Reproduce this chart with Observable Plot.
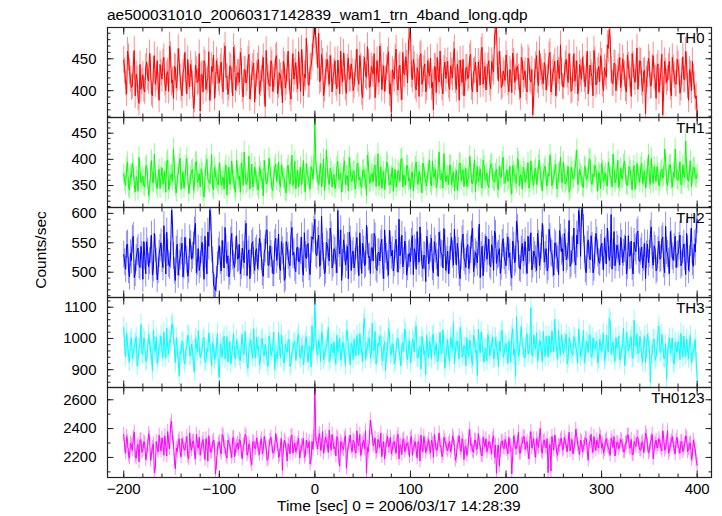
<!DOCTYPE html>
<html><head><meta charset="utf-8">
<script src="https://cdn.jsdelivr.net/npm/d3@7"></script>
<script src="https://cdn.jsdelivr.net/npm/@observablehq/plot@0.6"></script>
<style>
body{margin:0;background:#fff;}
#chart{position:relative;width:722px;height:516px;background:#fff;overflow:hidden;font-family:"Liberation Sans",Arial,sans-serif;}
</style></head><body><div id="chart"></div>
<script>
const titleText = "ae500031010_20060317142839_wam1_trn_4band_long.qdp";
const xLabelText = "Time [sec] 0 = 2006/03/17 14:28:39";
const yLabelText = "Counts/sec";
const panelNames = ["TH0", "TH1", "TH2", "TH3", "TH0123"];
const colors = ["#ff0000", "#00ff00", "#0000ff", "#00ffff", "#ff00ff"];
// bin times: even seconds (-200..400) and odd seconds (-199..399)
const timesEven = d3.range(-200, 401, 2);
const timesOdd = d3.range(-199, 400, 2);
const xMajor = [-200, -100, 0, 100, 200, 300, 400];
const xMinor = d3.range(-200, 401, 20);
const yDomains = [[358, 499], [308, 480], [457, 610], [843, 1131], [2061, 2685]];
const yMajor = [[400, 450], [350, 400, 450], [500, 550, 600], [900, 1000, 1100], [2200, 2400, 2600]];
const yMinorStep = [10, 10, 10, 20, 100];

const th0 = [448,412,462,430,405,440,392,418,380,402,
425,398,445,415,437,392,455,420,408,441,
418,452,400,430,470,412,388,436,419,445,
403,428,460,395,422,441,410,385,432,415,
368,426,447,402,419,385,438,456,408,430,
412,445,398,470,423,405,436,392,450,418,
428,460,401,433,412,448,387,425,443,406,
438,395,419,452,375,430,410,447,399,426,
455,408,423,381,440,414,462,397,429,418,
444,403,431,465,392,420,451,409,438,476,
505,462,490,418,445,402,438,426,455,398,
430,412,448,395,427,459,405,436,418,442,
400,428,465,410,437,389,452,421,444,407,
433,458,415,426,470,402,439,418,447,395,
366,428,451,412,436,404,460,425,442,478,
498,417,440,401,429,455,410,434,398,447,
423,405,370,437,452,414,428,395,445,431,
408,439,420,466,402,427,448,413,392,436,
419,452,405,430,445,398,427,462,410,438,
421,447,403,435,486,500,415,440,408,426,
456,412,433,397,445,420,438,405,452,417,
431,398,446,414,362,429,455,408,437,422,
444,401,427,460,413,435,392,448,419,430,
406,441,425,458,399,432,415,447,403,428,
452,418,436,395,440,422,463,409,431,414,
445,400,428,472,496,433,411,442,419,437,
405,450,426,398,439,416,458,421,434,402,
447,412,430,364,425,441,408,455,419,436,
398,428,362,446,413,437,405,452,424,410,
441,396,430,418,462,407,433,400,421,388,360];
const th0Odd = [431,395,452,418,407,463,426,389,441,414,
402,437,421,458,396,433,410,447,385,428,
444,412,426,399,455,417,438,404,466,421,
392,435,418,449,406,427,372,440,413,458,
424,398,442,415,461,403,430,388,447,419,
436,407,453,421,394,439,416,468,401,428,
413,445,390,432,419,457,404,437,382,426,
449,411,434,398,463,420,407,441,416,452,
395,428,412,446,404,435,421,387,458,430,
417,461,399,443,426,482,409,437,452,488,
479,436,414,457,392,428,449,410,435,421,
447,403,426,462,414,437,396,451,419,430,
408,442,418,455,397,433,424,469,405,438,
426,389,447,413,452,420,399,436,461,411,
433,418,465,401,440,386,427,453,412,484,
425,449,407,436,391,458,418,442,404,429,
451,413,438,397,426,462,405,434,419,446,
402,430,455,416,441,385,427,449,411,436,
423,457,398,432,417,445,409,468,424,401,
438,412,446,429,493,438,462,405,431,416,
442,398,427,459,413,436,421,389,447,425,
404,451,418,433,392,440,416,463,429,411,
437,420,455,398,428,446,410,431,472,407,
424,449,413,437,401,458,426,395,441,418,
433,406,462,419,428,392,447,414,438,455,
410,436,421,466,481,412,443,400,429,452,
418,437,403,456,425,391,440,413,467,426,
445,399,432,418,451,407,436,423,388,442,
415,457,402,430,419,446,392,435,411,449,
428,404,453,417,439,385,426,446,409,392];

const th1 = [372,350,395,342,366,381,338,360,404,355,
368,347,389,331,375,358,410,352,370,344,
384,361,337,399,356,372,420,348,365,390,
343,376,359,402,335,368,381,352,396,360,
347,374,328,388,362,354,409,341,370,357,
393,350,366,378,332,385,359,371,345,398,
362,337,380,414,352,368,343,391,358,374,
349,386,361,330,377,355,402,366,340,383,
358,395,347,372,363,336,389,352,408,360,
344,379,366,351,398,338,371,355,386,362,
480,375,351,392,366,340,418,359,383,347,
371,355,396,363,337,384,352,369,404,358,
376,343,389,361,350,379,366,331,394,357,
372,384,348,411,360,345,377,362,392,351,
368,339,381,356,373,400,347,365,388,359,
343,376,362,395,352,370,336,384,358,373,
398,349,366,381,355,414,361,345,377,368,
352,389,364,340,379,357,393,371,348,383,
362,406,355,373,338,386,367,351,399,360,
374,346,390,363,357,381,342,369,395,354,
371,358,387,334,376,363,402,349,368,385,
356,372,345,397,361,378,352,389,366,340,
382,359,374,408,350,367,391,344,376,362,
395,353,369,337,385,364,378,418,357,372,
348,387,361,375,399,352,366,383,339,370,
392,358,374,349,381,365,410,355,372,346,
384,363,397,351,369,378,342,388,360,375,
356,393,368,345,381,362,402,354,371,386,
349,377,364,420,358,373,390,347,366,382,
360,395,352,371,435,363,379,348,384,366,372];
const th1Odd = [358,383,346,371,392,352,367,339,378,361,
349,386,363,340,398,355,372,344,381,366,
353,377,395,342,369,358,384,336,373,402,
360,345,388,367,351,379,341,394,356,372,
382,338,364,400,357,370,346,385,362,351,
375,359,343,389,366,352,397,361,337,380,
368,393,350,374,356,406,363,347,385,359,
341,376,362,398,353,370,384,345,367,391,
373,355,389,364,339,381,358,376,350,396,
362,347,385,371,354,392,366,343,378,388,
391,359,372,348,401,363,384,352,377,365,
344,386,361,374,356,397,368,340,383,359,
378,352,393,366,345,380,362,408,354,371,
357,389,373,349,386,361,342,395,367,353,
384,363,347,379,358,402,370,351,388,364,
372,340,386,360,377,355,393,366,349,381,
355,397,368,346,383,362,374,411,357,369,
389,352,376,364,341,392,359,380,367,348,
366,385,353,399,370,357,382,345,388,363,
351,378,392,359,373,348,386,365,404,356,
380,362,347,388,369,354,395,371,343,377,
363,394,355,376,350,383,366,399,358,372,
387,349,368,392,361,379,345,373,404,355,
371,358,386,342,377,363,396,352,381,367,
346,384,365,401,356,372,389,360,375,344,
379,366,353,395,369,347,383,362,398,357,
364,390,372,351,386,359,377,343,392,368,
385,354,378,363,409,352,371,386,358,374,
357,381,369,396,350,388,362,375,420,361,
376,352,389,365,383,358,397,370,384,363];

const th2 = [530,505,548,492,520,561,498,535,512,544,
488,527,552,509,538,495,566,518,503,541,
522,579,497,533,510,605,528,486,548,515,
536,492,559,521,504,547,528,570,499,540,
513,551,488,530,568,606,540,478,469,512,
545,502,530,576,515,492,553,527,508,562,
524,497,541,516,583,530,489,548,519,535,
506,558,526,493,540,572,512,531,498,549,
520,565,503,537,486,552,528,511,576,534,
501,543,518,560,495,529,547,508,538,556,
590,528,563,514,542,497,551,533,575,507,
540,520,605,531,486,555,512,544,568,503,
536,518,559,494,527,549,511,580,525,498,
542,566,507,533,519,556,489,538,514,571,
528,502,547,522,590,536,509,553,495,530,
518,562,540,505,535,577,513,529,484,548,
526,558,499,539,516,568,532,507,550,521,
497,543,530,573,512,536,489,555,524,508,
547,520,563,501,534,516,582,529,494,541,
522,556,509,538,570,515,531,498,549,527,
511,560,533,490,545,521,574,507,538,519,
552,498,536,567,513,529,503,548,526,583,
517,540,508,559,531,495,546,522,571,535,
502,550,526,588,514,539,519,563,605,527,
612,538,499,555,521,544,507,566,532,515,
549,504,537,575,520,598,533,511,546,524,
559,516,540,497,562,528,509,551,535,570,
518,543,525,489,548,531,577,512,539,506,
553,524,560,499,536,518,569,527,542,508,
531,563,515,548,496,539,522,575,510,534,590];
const th2Odd = [517,546,503,532,556,491,524,541,508,529,
552,497,535,519,563,506,540,487,531,550,
508,541,568,514,529,582,502,538,495,526,
549,511,536,493,557,522,545,583,517,503,
538,524,561,497,544,595,520,474,488,535,
519,554,507,541,528,500,566,514,537,522,
547,510,529,563,494,538,516,552,503,540,
525,548,499,533,571,512,545,520,497,558,
533,509,552,526,490,544,515,562,529,507,
541,518,536,505,567,523,549,496,560,572,
531,553,510,595,527,502,546,519,562,514,
536,499,548,572,516,541,524,489,555,530,
507,545,521,567,498,538,514,553,527,541,
519,560,503,534,548,511,572,526,495,547,
537,515,556,500,528,563,519,545,508,532,
551,496,533,569,517,542,506,528,561,514,
540,508,552,527,493,546,531,574,503,536,
521,559,512,537,549,498,527,565,518,542,
506,538,575,514,529,552,491,544,523,561,
535,513,547,503,564,528,540,509,557,519,
542,525,498,553,516,587,530,505,549,533,
518,561,540,504,536,522,566,511,545,556,
529,502,573,534,514,550,527,496,558,540,
566,521,544,510,537,575,512,548,592,601,
574,505,546,528,562,499,537,553,518,541,
526,558,514,547,531,505,569,524,539,512,
548,533,561,510,527,553,497,541,566,521,
535,507,549,530,516,564,528,545,502,537,
522,555,513,578,531,498,547,520,561,529,
544,511,538,525,566,503,550,517,548,572];

const th3 = [1035,942,978,925,1002,958,986,912,969,1045,
948,990,931,1012,962,897,975,1004,940,983,
956,1021,937,968,995,1040,1010,922,964,880,
951,986,918,972,1008,944,961,893,979,1025,
939,967,1003,926,958,985,912,971,947,1015,
875,962,990,934,1006,955,919,978,943,996,
960,928,1012,949,973,904,985,957,1031,938,
967,915,994,952,981,926,1008,945,970,899,
953,1019,938,976,921,964,992,910,958,984,
930,1002,947,969,915,988,952,975,908,963,
1135,958,994,927,1012,946,973,1036,934,968,
989,920,957,1001,942,976,913,1023,950,985,
932,968,1010,947,979,925,1064,958,991,936,
1049,962,919,985,1007,941,972,897,966,1018,
953,981,928,996,960,912,987,1030,945,973,
921,998,956,1040,938,975,1006,949,884,968,
990,935,1014,962,927,983,951,1028,904,972,
944,1003,966,918,987,958,1035,940,977,912,
961,995,932,1010,955,881,979,1021,947,970,
928,992,963,1004,939,975,910,958,1026,951,
984,920,966,1009,946,878,993,957,1038,971,
937,1015,958,1098,943,980,1018,951,989,925,
968,1007,940,976,1024,957,994,933,972,1011,
952,987,919,1003,964,946,998,958,1030,941,
975,922,991,955,1012,940,968,985,921,997,
959,1016,942,978,1064,950,989,927,970,1008,
946,983,912,1021,961,995,937,1058,974,952,
1006,940,981,923,1013,966,948,997,930,972,
1040,955,985,936,868,978,952,1002,918,969,
990,932,975,1008,943,961,986,921,958,996,870];
const th3Odd = [975,1018,947,990,936,968,1005,929,983,951,
1001,927,965,989,946,1026,958,920,977,1008,
938,972,1033,951,988,1047,967,1003,935,959,
992,930,964,1011,945,982,919,1000,957,973,
947,995,923,968,1018,951,986,932,974,903,
983,940,1007,961,925,990,948,1015,934,966,
942,985,953,1023,918,970,996,937,961,1004,
975,930,1001,944,968,911,987,958,1020,949,
934,973,1012,926,981,955,997,919,965,990,
958,1015,936,979,947,1006,924,968,1041,985,
1002,947,978,1019,932,964,991,925,983,954,
939,1010,962,930,988,951,1027,968,915,976,
997,944,980,1016,957,1045,934,972,1002,949,
962,1023,940,975,1009,927,990,954,1032,946,
983,918,967,1001,943,979,958,1017,931,994,
950,986,1021,937,968,902,991,960,1011,939,
973,1007,946,984,928,1019,955,978,941,996,
928,985,1052,957,992,935,1010,949,972,1003,
942,979,916,998,963,1029,954,987,925,968,
1012,945,981,934,1003,958,990,1018,940,977,
957,992,925,1031,966,1070,943,1005,972,938,
1001,950,982,947,1011,968,929,994,960,1022,
943,979,1008,955,989,1062,964,1027,947,983,
969,1014,936,990,952,1006,973,921,998,960,
1025,948,983,1009,941,1002,966,992,935,978,
988,929,1011,957,1052,974,947,1003,968,931,
962,1033,945,988,970,1006,938,979,1015,953,
991,924,1007,966,985,860,948,997,940,1020,
958,1012,937,983,951,1001,969,924,988,956,
979,1016,940,967,998,935,1009,952,971,925];

const th0123 = [2360,2230,2310,2195,2285,2340,2210,2275,2170,2325,
2250,2300,2220,2365,2180,2270,2095,2310,2240,2290,
2335,2215,2280,2380,2260,2450,2300,2120,2240,2330,
2205,2290,2250,2345,2190,2275,2310,2230,2360,2265,
2215,2300,2245,2330,2175,2285,2240,2320,2085,2260,
2310,2225,2350,2270,2195,2300,2240,2335,2205,2280,
2255,2315,2190,2290,2345,2235,2270,2150,2305,2260,
2290,2220,2330,2255,2300,2180,2275,2340,2230,2265,
2310,2200,2285,2110,2320,2250,2295,2225,2355,2270,
2240,2300,2195,2280,2330,2215,2265,2310,2185,2255,
2700,2295,2340,2250,2380,2270,2315,2235,2300,2360,
2260,2210,2330,2140,2290,2255,2350,2225,2305,2270,
2320,2245,2385,2280,2215,2300,2260,2090,2240,2460,
2350,2295,2230,2325,2270,2205,2310,2255,2345,2280,
2225,2300,2265,2335,2190,2285,2320,2240,2295,2260,
2330,2215,2285,2250,2310,2175,2275,2345,2235,2290,
2265,2320,2200,2300,2250,2370,2280,2225,2315,2260,
2295,2240,2350,2270,2205,2305,2260,2330,2185,2280,
2250,2395,2290,2235,2320,2265,2300,2215,2340,2275,
2240,2310,2260,2330,2200,2090,2285,2245,2315,2260,
2300,2225,2280,2085,2350,2260,2305,2230,2290,2340,
2255,2310,2190,2380,2295,2245,2330,2270,2400,2230,
2320,2265,2095,2290,2345,2250,2305,2215,2280,2335,
2260,2310,2240,2375,2285,2225,2300,2350,2265,2320,
2240,2295,2330,2180,2310,2270,2345,2250,2290,2360,
2265,2230,2315,2285,2250,2335,2270,2210,2305,2260,
2325,2280,2240,2300,2355,2265,2220,2310,2275,2340,
2255,2300,2235,2370,2285,2245,2320,2190,2295,2265,
2330,2270,2385,2250,2305,2230,2290,2345,2260,2315,
2275,2230,2310,2260,2350,2240,2295,2185,2320,2255,2150];
const th0123Odd = [2270,2345,2215,2300,2250,2375,2195,2290,2320,2235,
2310,2185,2280,2335,2220,2295,2130,2260,2355,2245,
2290,2350,2210,2305,2420,2335,2180,2265,2310,2240,
2330,2260,2295,2205,2370,2250,2315,2190,2285,2340,
2260,2325,2185,2290,2350,2235,2305,2270,2160,2295,
2245,2360,2270,2215,2320,2285,2200,2340,2255,2300,
2325,2240,2280,2360,2215,2295,2175,2310,2265,2335,
2255,2300,2225,2345,2270,2190,2320,2285,2240,2365,
2290,2215,2330,2260,2305,2175,2280,2345,2230,2300,
2265,2335,2240,2290,2200,2320,2275,2155,2310,2345,
2320,2260,2365,2285,2230,2340,2295,2390,2250,2305,
2275,2345,2200,2310,2265,2330,2125,2290,2355,2240,
2310,2230,2295,2360,2250,2320,2385,2270,2335,2400,
2280,2335,2245,2305,2370,2260,2190,2315,2275,2340,
2255,2310,2230,2360,2285,2220,2330,2265,2300,2205,
2345,2270,2310,2195,2290,2355,2240,2300,2265,2325,
2230,2295,2360,2250,2315,2275,2205,2340,2290,2245,
2310,2265,2330,2180,2295,2350,2240,2305,2270,2215,
2340,2285,2245,2320,2255,2365,2280,2210,2300,2330,
2265,2305,2225,2350,2285,2240,2140,2310,2270,2325,
2255,2340,2280,2215,2310,2265,2375,2230,2300,2345,
2290,2240,2325,2265,2330,2200,2295,2350,2245,2310,
2275,2330,2260,2105,2300,2355,2235,2285,2320,2250,
2340,2280,2310,2245,2325,2265,2395,2290,2220,2305,
2270,2335,2250,2300,2360,2235,2285,2320,2265,2340,
2295,2255,2330,2270,2215,2310,2345,2260,2300,2285,
2315,2240,2300,2355,2265,2325,2220,2290,2340,2275,
2250,2310,2275,2345,2230,2300,2360,2265,2320,2285,
2305,2245,2330,2270,2385,2250,2315,2290,2225,2340,
2265,2310,2240,2295,2335,2260,2300,2215,2280,2180];

const seriesEven = [th0, th1, th2, th3, th0123];
const seriesOdd = [th0Odd, th1Odd, th2Odd, th3Odd, th0123Odd];
const FONT = '"Liberation Sans", Arial, Helvetica, sans-serif';
const chart = document.getElementById("chart");
const minusFmt = d => d < 0 ? "\u2212" + Math.abs(d) : String(d);
const plainFmt = d => String(d);
const blank = () => "";

seriesEven.forEach((vals, i) => {
  const data = timesEven.map((t, j) => ({t, v: vals[j]}))
    .concat(timesOdd.map((t, j) => ({t, v: seriesOdd[i][j]})))
    .sort((a, b) => a.t - b.t);
  data.forEach(d => { d.e = Math.sqrt(d.v); });
  const last = i === seriesEven.length - 1;
  const mb = last ? 40 : 2;
  const [lo, hi] = yDomains[i];
  const st = yMinorStep[i];
  const yMinor = d3.range(Math.ceil(lo / st) * st, hi, st);
  const marks = [
    Plot.ruleX(data, {x: "t", y1: d => d.v - d.e, y2: d => d.v + d.e, stroke: colors[i], strokeOpacity: 0.45, strokeWidth: 1, clip: true}),
    Plot.line(data, {x: "t", y: "v", stroke: colors[i], strokeWidth: 1, clip: true}),
    Plot.axisX({anchor: "bottom", ticks: xMajor, tickSize: -6.5, tickFormat: blank, label: null, stroke: "#222"}),
    Plot.axisX({anchor: "top", ticks: xMajor, tickSize: -6.5, tickFormat: blank, label: null, stroke: "#222"}),
    Plot.axisX({anchor: "bottom", ticks: xMinor, tickSize: -3.5, tickFormat: blank, label: null, stroke: "#222"}),
    Plot.axisX({anchor: "top", ticks: xMinor, tickSize: -3.5, tickFormat: blank, label: null, stroke: "#222"}),
    Plot.axisY({anchor: "left", ticks: yMajor[i], tickSize: -6.5, tickFormat: blank, label: null, stroke: "#222"}),
    Plot.axisY({anchor: "right", ticks: yMajor[i], tickSize: -6.5, tickFormat: blank, label: null, stroke: "#222"}),
    Plot.axisY({anchor: "left", ticks: yMinor, tickSize: -3.5, tickFormat: blank, label: null, stroke: "#222"}),
    Plot.axisY({anchor: "right", ticks: yMinor, tickSize: -3.5, tickFormat: blank, label: null, stroke: "#222"}),
    Plot.axisY({anchor: "left", ticks: yMajor[i], tickSize: 0, tickPadding: 11, tickFormat: plainFmt, label: null, fontSize: 15, fill: "#000"}),
    Plot.frame({stroke: "#222", strokeWidth: 1.2}),
    Plot.text([panelNames[i]], {frameAnchor: "top-right", dx: -7, dy: 5, fontSize: 15, fill: "#000"})
  ];
  if (last) marks.push(Plot.axisX({anchor: "bottom", ticks: xMajor, tickSize: 0, tickPadding: 6, tickFormat: minusFmt, label: null, fontSize: 15, fill: "#000"}));
  const svg = Plot.plot({
    width: 722, height: 92 + mb,
    marginLeft: 107, marginRight: 11, marginTop: 2, marginBottom: mb,
    x: {domain: [-217, 415], label: null},
    y: {domain: yDomains[i], label: null},
    style: {fontFamily: FONT, fontSize: "15px", background: "transparent", overflow: "visible", position: "absolute", left: "0px", top: (25 + 90 * i) + "px", maxWidth: "none"},
    marks
  });
  chart.appendChild(svg);
});

const ov = d3.select(chart).append("svg")
  .attr("width", 722).attr("height", 516)
  .style("position", "absolute").style("left", "0px").style("top", "0px")
  .style("font-family", FONT).style("pointer-events", "none");
ov.append("text").attr("x", 107).attr("y", 20).attr("font-size", 15.5).attr("fill", "#000").text(titleText);
ov.append("text").attr("x", 277).attr("y", 511).attr("font-size", 15.5).attr("fill", "#000").text(xLabelText);
ov.append("text").attr("transform", "translate(45.5,250) rotate(-90)").attr("text-anchor", "middle").attr("font-size", 15.5).attr("fill", "#000").text(yLabelText);
</script></body></html>
